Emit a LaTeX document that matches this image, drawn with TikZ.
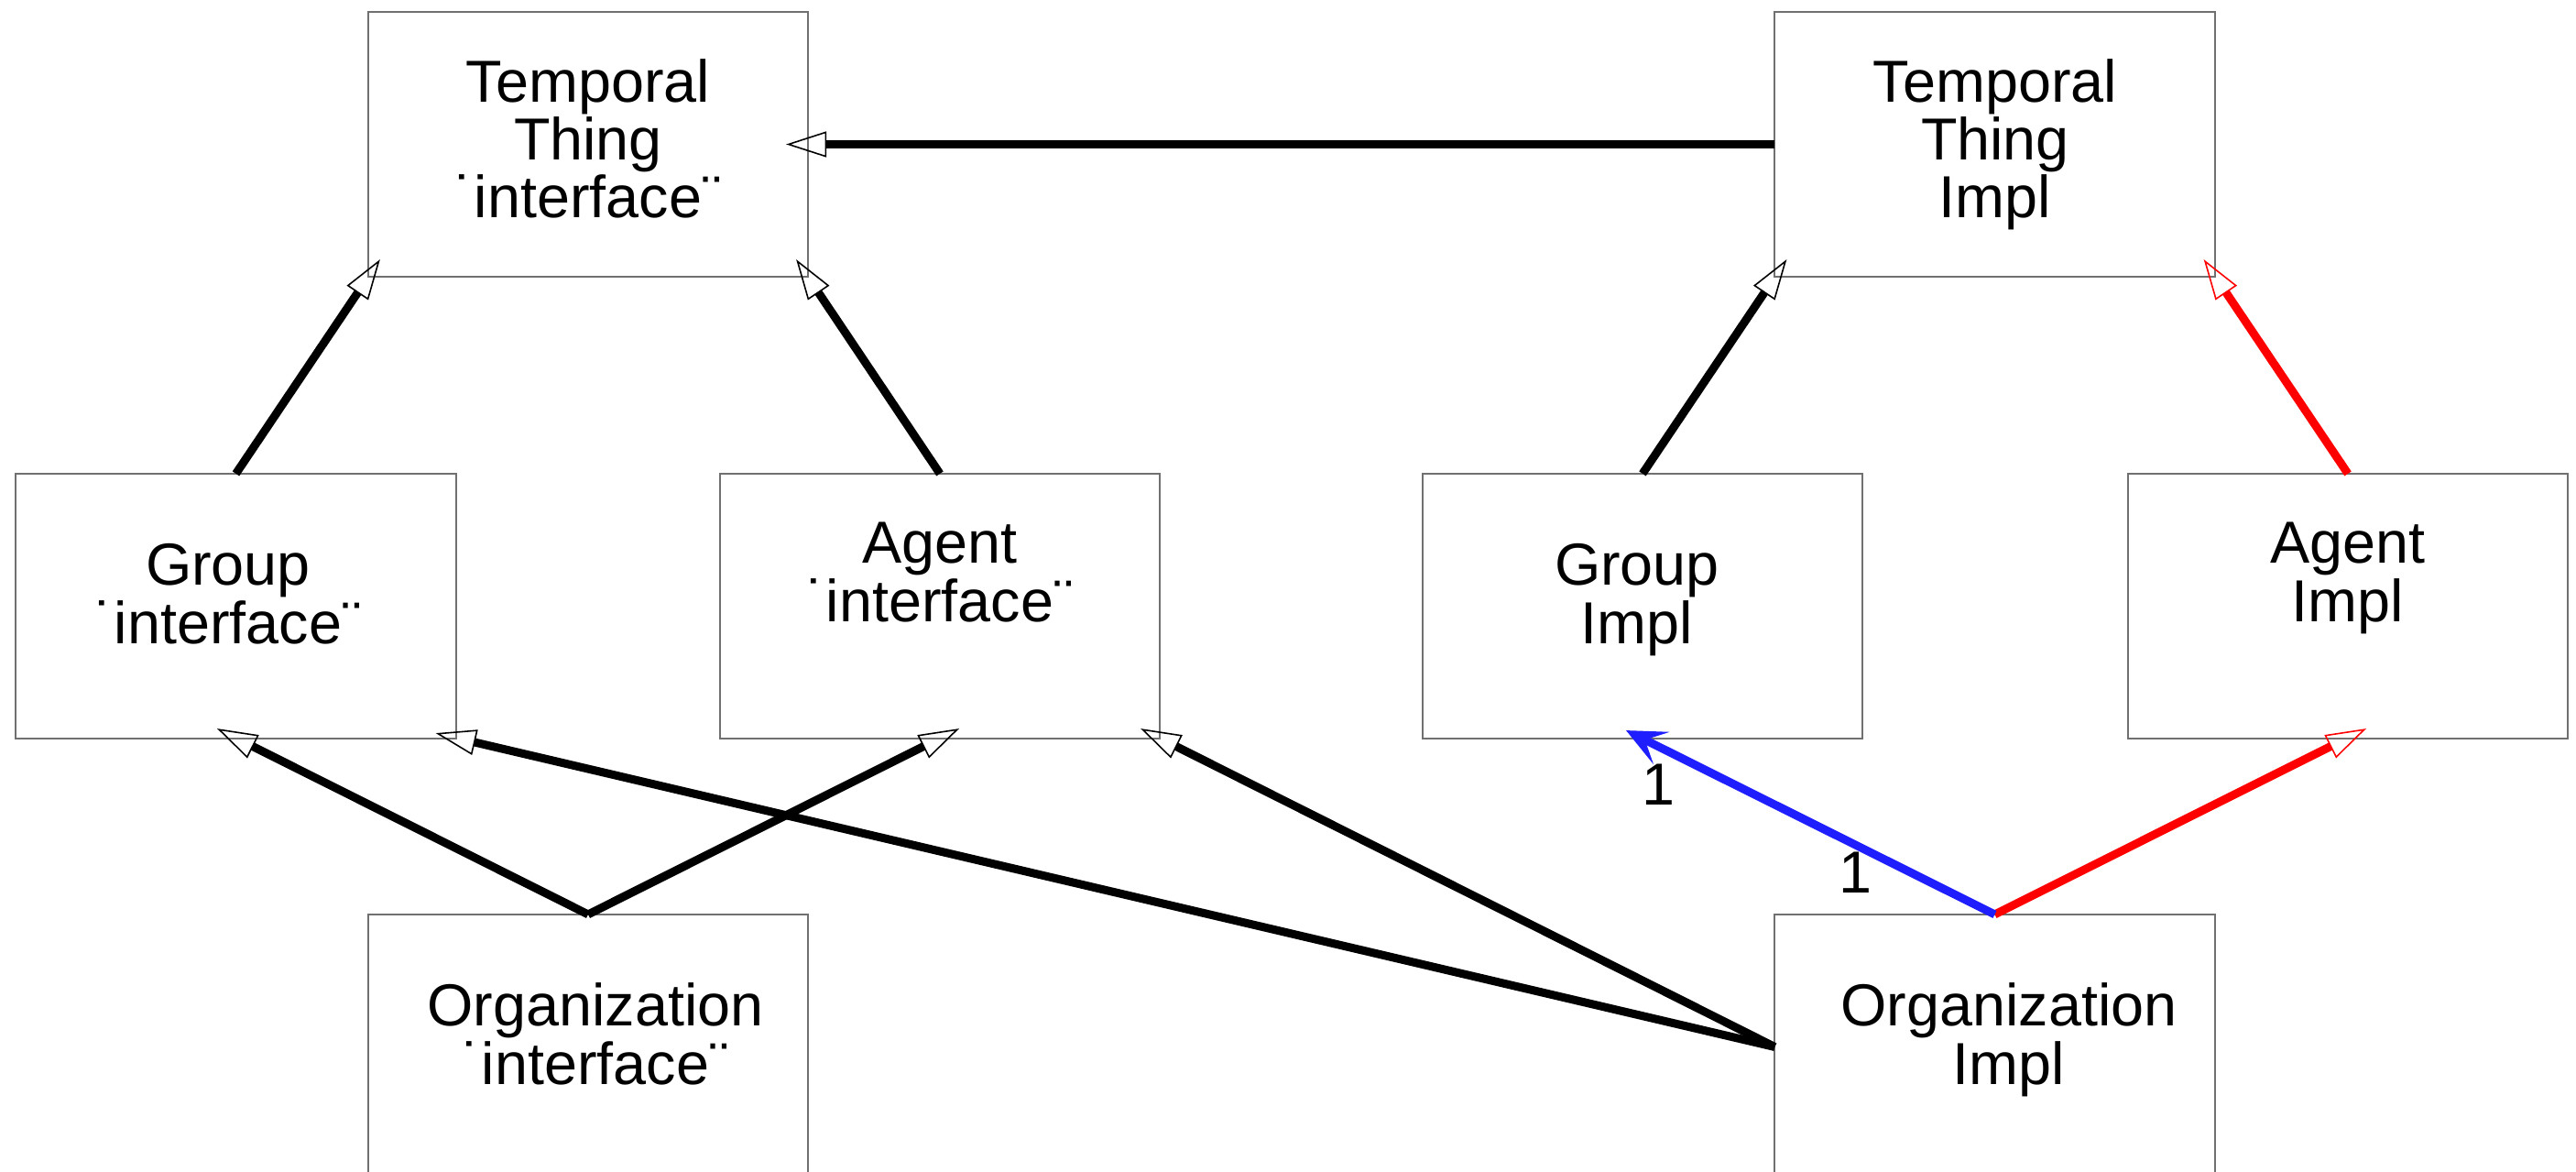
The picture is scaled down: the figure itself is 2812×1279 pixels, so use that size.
\documentclass[tikz,border=0pt]{standalone}
\usepackage{fontspec}
\setmainfont{Liberation Sans}
\usetikzlibrary{arrows.meta,calc}
\definecolor{edgeblue}{RGB}{30,30,255}
\definecolor{edgered}{RGB}{255,0,0}
\definecolor{boxgray}{RGB}{112,112,112}

\begin{document}
\begin{tikzpicture}[x=0.01cm,y=-0.01cm,
  classbox/.style={draw=boxgray, line width=0.55pt, minimum width=4.80cm,
    minimum height=2.89cm, inner sep=0pt, outer sep=0pt},
  cname/.style={font=\fontsize{18.4}{18}\selectfont, align=center,
    anchor=base, inner sep=0pt},
  mult/.style={font=\fontsize{18.4}{18}\selectfont, anchor=base, inner sep=0pt},
  inherit/.style={line width=0.09cm,
    -{Triangle[open, length=0.44cm, width=0.28cm, line width=0.45pt]}},
  assoc/.style={line width=0.09cm, draw=edgeblue,
    -{Stealth[length=0.43cm, width=0.39cm, inset=0.2cm]}}
]
\fill[white] (0,0) rectangle (2812,1279);
\useasboundingbox (0,0) rectangle (2812,1279);

% class boxes
\node[classbox] (tti)   at (642,157.5)    {};
\node[classbox] (ttimp) at (2177.5,157.5) {};
\node[classbox] (gi)    at (257.5,661.5)  {};
\node[classbox] (ai)    at (1026,661.5)   {};
\node[classbox] (gimp)  at (1793,661.5)   {};
\node[classbox] (aimp)  at (2563,661.5)   {};
\node[classbox] (oi)    at (642,1142.5)   {};
\node[classbox] (oimp)  at (2177.5,1142.5){};

% class names (placed by the baseline of their last line)
\node[cname] (tti-n)   at (642,238)  {Temporal\\Thing\\˙interface¨};
\node[cname] (ttimp-n) at (2178,238) {Temporal\\Thing\\Impl};
\node[cname] (gi-n)    at (249,702)  {Group\\˙interface¨};
\node[cname] (ai-n)    at (1026,678) {Agent\\˙interface¨};
\node[cname] (gimp-n)  at (1787,702) {Group\\Impl};
\node[cname] (aimp-n)  at (2563,678) {Agent\\Impl};
\node[cname] (oi-n)    at (650,1183) {Organization\\˙interface¨};
\node[cname] (oimp-n)  at (2193,1183){Organization\\Impl};

% generalisation / realisation links
\draw[inherit] (ttimp.west) -- ($(tti.east)+(-24,0)$);
\draw[inherit] (gi.north) -- ($(tti.south west)+(13,-19)$);
\draw[inherit] (ai.north) -- ($(tti.south east)+(-13,-19)$);
\draw[inherit] (gimp.north) -- ($(ttimp.south west)+(13,-19)$);
\draw[inherit, edgered] (aimp.north) -- ($(ttimp.south east)+(-12,-19)$);
\draw[inherit] (oi.north) -- ($(gi.south)+(-20.5,-11)$);
\draw[inherit] (oi.north) -- ($(ai.south)+(21,-11)$);
\draw[inherit] (oimp.west) -- ($(gi.south east)+(-22,-6)$);
\draw[inherit] (oimp.west) -- ($(ai.south east)+(-21,-11)$);
\draw[inherit, edgered] (oimp.north) -- ($(aimp.south)+(20,-11)$);

% association with multiplicities
\draw[assoc, fill=edgeblue] (oimp.north) -- ($(gimp.south)+(-18,-9)$);
\node[mult] (m-near) at (1810,878) {1};
\node[mult] (m-far)  at (2025,974) {1};
\end{tikzpicture}
\end{document}
